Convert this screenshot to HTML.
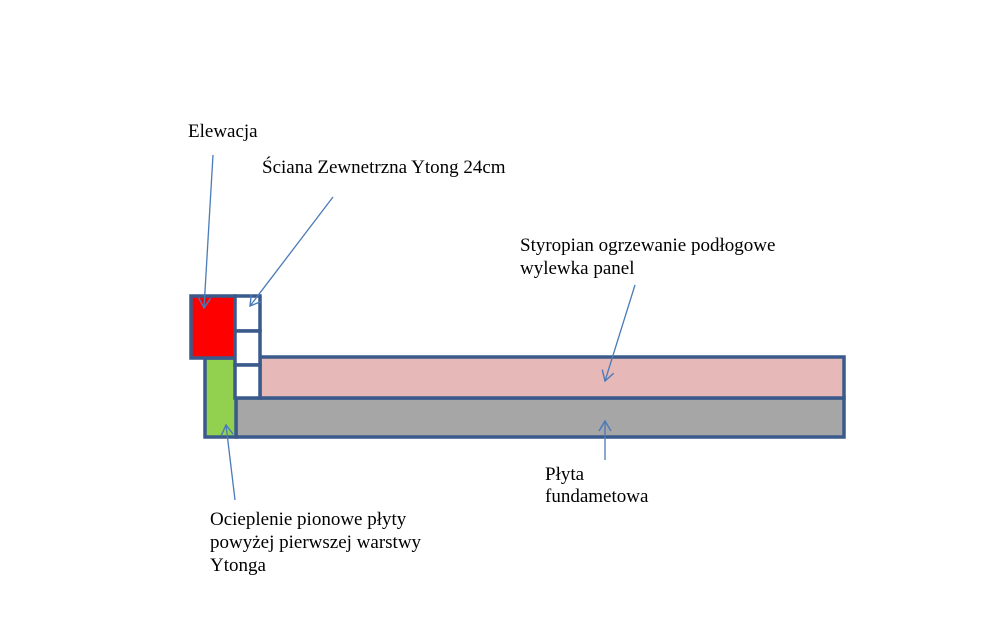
<!DOCTYPE html>
<html><head><meta charset="utf-8"><style>
html,body{margin:0;padding:0;background:#fff;width:1000px;height:625px;overflow:hidden}
</style></head><body>
<svg width="1000" height="625" viewBox="0 0 1000 625" xmlns="http://www.w3.org/2000/svg">
<defs>
<marker id="a" markerWidth="14" markerHeight="14" refX="11" refY="7" orient="auto" markerUnits="userSpaceOnUse">
<path d="M1,1 L11,7 L1,13" fill="none" stroke="#4a7ab8" stroke-width="1.4"/>
</marker>
</defs>
<g stroke="#3a5a8c" stroke-width="3.5">
<rect x="236" y="398" width="608" height="39" fill="#a6a6a6"/>
<rect x="260" y="357" width="584" height="41" fill="#e6b8b7"/>
<rect x="205" y="358" width="31" height="79" fill="#92d050"/>
<rect x="191" y="296" width="44" height="62" fill="#ff0000"/>
<rect x="235" y="296" width="25" height="35" fill="#fff"/>
<rect x="235" y="331" width="25" height="34" fill="#fff"/>
<rect x="235" y="365" width="25" height="33" fill="#fff"/>
</g>
<g stroke="#4a7ab8" stroke-width="1.3" fill="none">
<line x1="213" y1="155" x2="204" y2="308" marker-end="url(#a)"/>
<line x1="333" y1="197" x2="250" y2="306" marker-end="url(#a)"/>
<line x1="635" y1="285" x2="605" y2="381" marker-end="url(#a)"/>
<line x1="605" y1="460" x2="605" y2="421" marker-end="url(#a)"/>
<line x1="235" y1="500" x2="226" y2="425" marker-end="url(#a)"/>
</g>
<g font-family="Liberation Serif, serif" font-size="19" fill="#000">
<text x="188" y="137">Elewacja</text>
<text x="262" y="173">Ściana Zewnetrzna Ytong 24cm</text>
<text x="520" y="251">Styropian ogrzewanie podłogowe</text>
<text x="520" y="274">wylewka panel</text>
<text x="545" y="480">Płyta</text>
<text x="545" y="502">fundametowa</text>
<text x="210" y="525">Ocieplenie pionowe płyty</text>
<text x="210" y="548">powyżej pierwszej warstwy</text>
<text x="210" y="571">Ytonga</text>
</g>
</svg>
</body></html>
